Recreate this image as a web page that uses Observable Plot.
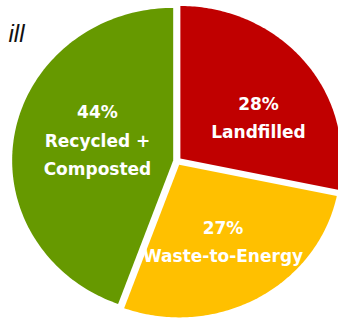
<!DOCTYPE html>
<html>
<head>
<meta charset="utf-8">
<script src="https://cdn.jsdelivr.net/npm/d3@7"></script>
<script src="https://cdn.jsdelivr.net/npm/@observablehq/plot@0.6"></script>
<style>
  html, body { margin: 0; padding: 0; background: #fff; }
  #chart { position: relative; width: 338px; height: 322px; overflow: hidden; }
</style>
</head>
<body>
<div id="chart"></div>
<script>
// ---- data (clockwise from 12 o'clock) ----
const categories = ["Landfilled", "Waste-to-Energy", "Recycled +\nComposted"];
const shares = [28, 27, 44];
const colors = ["#C00000", "#FFC000", "#669900"];
const titleText = "ill";

// ---- layout ----
const W = 338, H = 322;
const Cx = 176.7, Cy = 160.7;   // pie centre (px)
const Rx = 161, Ry = 152.6;     // pie radii (px)
const explode = 4.1;            // slice offset (px)
const labelR = 0.55;
const labelNudge = [[9.4, 9], [0.8, 0.8], [11.5, -8.5]]; // px

const total = d3.sum(shares);
const TAU = Math.PI * 2;

const wedgePts = [];
const labels = [];
let cum = 0;
shares.forEach((v, i) => {
  const a0 = cum / total * TAU;
  cum += v;
  const a1 = cum / total * TAU;
  const am = (a0 + a1) / 2;
  const ox = Math.sin(am) * explode / Rx;
  const oy = Math.cos(am) * explode / Ry;
  const cat = categories[i];
  wedgePts.push({cat, x: ox, y: oy});
  const n = 120;
  for (let k = 0; k <= n; k++) {
    const a = a0 + (a1 - a0) * k / n;
    wedgePts.push({cat, x: Math.sin(a) + ox, y: Math.cos(a) + oy});
  }
  labels.push({
    cat,
    text: `${v}%\n${cat}`,
    x: Math.sin(am) * labelR + ox + labelNudge[i][0] / Rx,
    y: Math.cos(am) * labelR + oy - labelNudge[i][1] / Ry
  });
});

const chart = Plot.plot({
  width: W,
  height: H,
  margin: 0,
  x: {domain: [-Cx / Rx, (W - Cx) / Rx], axis: null},
  y: {domain: [-(H - Cy) / Ry, Cy / Ry], axis: null},
  color: {domain: categories, range: colors},
  style: {background: "#fff"},
  marks: [
    Plot.line(wedgePts, {x: "x", y: "y", z: "cat", fill: "cat", stroke: null, curve: "linear"}),
    Plot.text(labels, {
      x: "x", y: "y", text: "text",
      fill: "white",
      fontSize: 17,
      fontWeight: "bold",
      fontFamily: "DejaVu Sans, sans-serif",
      lineHeight: 1.68,
      lineAnchor: "middle",
      textAnchor: "middle"
    }),
    Plot.text([titleText], {
      frameAnchor: "top-left",
      dx: 24, dy: 41,
      textAnchor: "end",
      lineAnchor: "bottom",
      fontSize: 24,
      fontStyle: "italic",
      fontFamily: "Liberation Sans, Arial, sans-serif",
      fill: "#111",
      style: "letter-spacing:2px"
    })
  ]
});
document.getElementById("chart").appendChild(chart);
</script>
</body>
</html>
